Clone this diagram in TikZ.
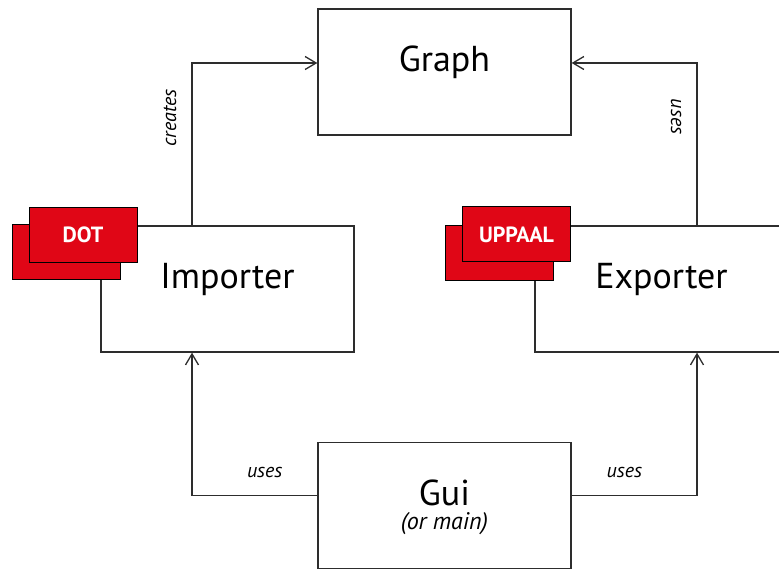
\documentclass[tikz,border=0pt]{standalone}
\usepackage{fontspec}
\setmainfont{PT Sans}
\usetikzlibrary{arrows.meta}
\definecolor{tagred}{RGB}{224,6,22}
\definecolor{linegray}{RGB}{45,45,45}
\begin{document}
\begin{tikzpicture}[
    x=1pt, y=-1pt,
    box/.style={draw=linegray, line width=1.3pt, minimum width=253pt, minimum height=126pt,
        font=\fontsize{36}{40}\selectfont, text height=14pt, text depth=14pt},
    tag/.style={draw=black, line width=1pt, fill=tagred, minimum width=108pt, minimum height=55pt,
        text=white, font=\fontsize{22}{24}\selectfont\bfseries},
    arrow/.style={-{Straight Barb[length=11pt, width=13pt]}, draw=linegray, line width=1.3pt},
    lbl/.style={font=\fontsize{20}{24}\selectfont\itshape}
]
\useasboundingbox (0,0) rectangle (779,569);

% Main components
\node[box] (graph) at (444.5,72) {Graph};
\node[box] (importer) at (227.5,289) {Importer};
\node[box] (exporter) at (661.5,289) {Exporter};
\node[box] (gui) at (444.5,505.5) {Gui};
\node[lbl, font=\fontsize{24}{28}\selectfont\itshape, anchor=base] (guinote) at ([yshift=-24pt]gui.center) {(or main)};

% Format tags
\node[tag] (dotback) at (66,252.5) {};
\node[tag] (dot) at (83,235) {DOT};
\node[tag] (uppaalback) at (499,253) {};
\node[tag] (uppaal) at (516.5,234.5) {UPPAAL};

% Dependencies
\draw[arrow] ([xshift=-35.5pt]importer.north) |- ([yshift=9pt]graph.west)
    node[lbl, pos=0.33, rotate=90, anchor=south, inner sep=15pt] {creates};
\draw[arrow] ([xshift=35.5pt]exporter.north) |- ([yshift=9pt]graph.east)
    node[lbl, pos=0.335, rotate=-90, anchor=north, inner sep=15pt] {uses};
\draw[arrow] ([yshift=10pt]gui.west) -| ([xshift=-35.5pt]importer.south)
    node[lbl, pos=0.21, above=14pt, inner sep=3pt] {uses};
\draw[arrow] ([yshift=10pt]gui.east) -| ([xshift=35.5pt]exporter.south)
    node[lbl, pos=0.21, above=14pt, inner sep=3pt] {uses};

\end{tikzpicture}
\end{document}
